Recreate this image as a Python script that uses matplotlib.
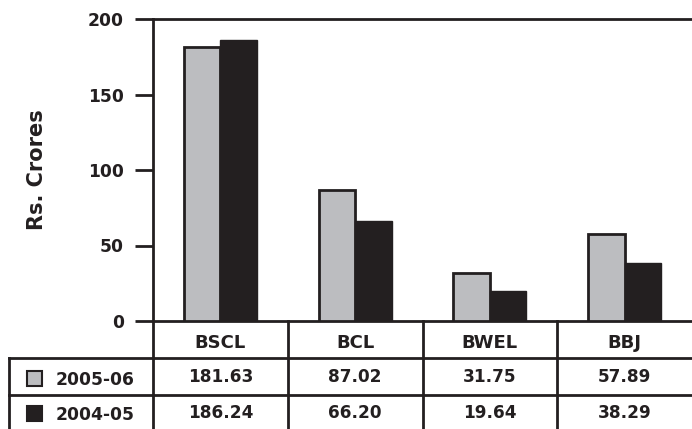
import matplotlib.pyplot as plt
import matplotlib.transforms as mtransforms
from matplotlib.patches import Rectangle

plt.rcParams['font.family'] = ['DejaVu Sans']
plt.rcParams['font.weight'] = 'bold'

companies = ['BSCL', 'BCL', 'BWEL', 'BBJ']
years = ['2005-06', '2004-05']
values_2005_06 = [181.63, 87.02, 31.75, 57.89]
values_2004_05 = [186.24, 66.20, 19.64, 38.29]
value_labels_2005_06 = ['181.63', '87.02', '31.75', '57.89']
value_labels_2004_05 = ['186.24', '66.20', '19.64', '38.29']
yticks = [0, 50, 100, 150, 200]

grey = '#bcbdc0'
dark = '#231f20'
line = '#231f20'
table_fs = 12.2

fig = plt.figure(figsize=(6.92, 4.29), dpi=100)
ax = fig.add_axes([153 / 692, 1 - 321 / 429, 1 - 153 / 692, (321 - 19) / 429])

w = 0.27
xs = list(range(len(companies)))
ax.bar([x - w / 2 for x in xs], values_2005_06, width=w, color=grey,
       edgecolor=line, linewidth=2, zorder=3)
ax.bar([x + w / 2 for x in xs], values_2004_05, width=w, color=dark,
       edgecolor=dark, linewidth=1, zorder=3)

ax.set_xlim(-0.5, len(companies) - 0.5)
ax.set_ylim(0, 200)
ax.set_yticks(yticks)
ax.set_yticklabels([str(t) for t in yticks], fontsize=12.3, fontweight='bold',
                   color=line)
ax.set_xticks([])
ax.tick_params(axis='y', length=13, width=2, color=line, pad=8)
for s in ['left', 'top', 'bottom']:
    ax.spines[s].set_linewidth(2)
    ax.spines[s].set_color(line)
ax.spines['right'].set_visible(False)
ax.spines['left'].set_bounds(-80, 200)

ax.yaxis.set_label_coords(-(153 - 37) / 539, 0.5)
ax.set_ylabel('Rs. Crores', fontsize=15, fontweight='bold', color=line,
              va='center')

# Data table under the axes
trans = mtransforms.blended_transform_factory(ax.transData, ax.transAxes)
px = 1 / 302.0
row_h = 37 * px
y_head = -row_h
y_r1 = -2 * row_h
y_bot = -0.5

for i in range(1, len(companies)):
    ax.plot([i - 0.5, i - 0.5], [0, y_bot], transform=trans, color=line,
            lw=2, clip_on=False)
for yy in (y_head, y_r1):
    ax.plot([-0.5, 3.6], [yy, yy], transform=trans, color=line, lw=2,
            clip_on=False)

rows = [(companies, 348, 13), (value_labels_2005_06, 382.5, table_fs),
        (value_labels_2004_05, 418.5, table_fs)]
for labels, base, fs in rows:
    for i, t in enumerate(labels):
        ax.text(i, -(base - 321) * px, t, transform=trans, ha='center',
                va='baseline', fontsize=fs, fontweight='bold',
                color=line, clip_on=False)

# Row header column with legend swatches (figure pixel coordinates)
ftrans = mtransforms.Affine2D().scale(1 / 692, 1 / 429) + fig.transFigure


def fy(y):
    return 429 - y


fig.add_artist(plt.Line2D([9, 153], [fy(358), fy(358)], transform=ftrans,
                          color=line, lw=2))
fig.add_artist(plt.Line2D([9, 153], [fy(395), fy(395)], transform=ftrans,
                          color=line, lw=2))
fig.add_artist(plt.Line2D([9, 9], [fy(358), fy(440)], transform=ftrans,
                          color=line, lw=2))

for k, (yr, col, ec) in enumerate([(years[0], grey, line),
                                    (years[1], dark, dark)]):
    yc = 378.5 + k * 35
    fig.add_artist(Rectangle((27, fy(yc + 7.5)), 15, 15, transform=ftrans,
                             facecolor=col, edgecolor=ec, lw=1.5))
    fig.text(56 / 692, fy(yc + 6.5) / 429, yr, ha='left', va='baseline',
             fontsize=12.3, fontweight='bold', color=line)

fig.savefig('out.png', dpi=100)
